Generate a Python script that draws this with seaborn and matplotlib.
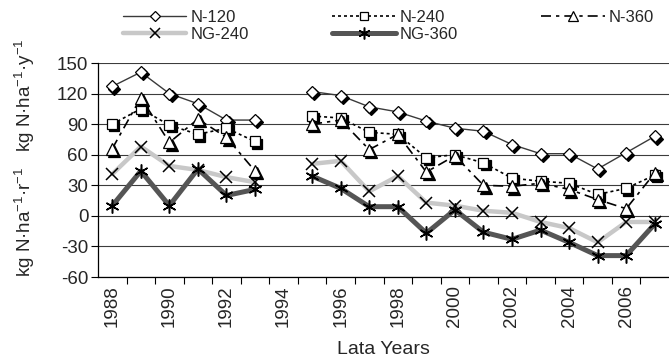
import numpy as np
import pandas as pd
import matplotlib
matplotlib.use("Agg")
import matplotlib.pyplot as plt
import matplotlib.transforms as mtransforms
from matplotlib.lines import Line2D
import seaborn as sns

years = list(range(1988, 2008))
n120 = [127, 141, 120, 110, 94, 94, np.nan, 122, 118, 107, 102, 93, 86, 83, 70, 61, 61, 46, 62, 78]
n240 = [90, 105, 89, 80, 86, 73, np.nan, 98, 96, 82, 80, 57, 60, 52, 37, 34, 32, 21, 27, 40]
n360 = [66, 116, 72, 95, 77, 44, np.nan, 90, 94, 65, 80, 43, 59, 30, 29, 32, 26, 16, 7, 42]
ng240 = [41, 68, 49, 45, 38, 33, np.nan, 51, 54, 24, 39, 13, 10, 5, 3, -6, -12, -26, -6, -6]
ng360 = [10, 44, 10, 46, 20, 26, np.nan, 39, 27, 9, 9, -17, 6, -16, -23, -14, -26, -39, -39, -8]
series_names = ["N-120", "N-240", "N-360", "NG-240", "NG-360"]
series_values = [n120, n240, n360, ng240, ng360]
yticks = [-60, -30, 0, 30, 60, 90, 120, 150]
xlabels = list(range(1988, 2007, 2))

sns.set_theme(style="white")
plt.rcParams["font.family"] = ["Liberation Sans", "DejaVu Sans"]
plt.rcParams["mathtext.fontset"] = "custom"
plt.rcParams["mathtext.rm"] = "Liberation Sans"
plt.rcParams["mathtext.it"] = "Liberation Sans"

rows = []
for name, vals in zip(series_names, series_values):
    for y, v in zip(years, vals):
        rows.append({"series": name, "year": y, "value": v,
                     "seg": 0 if y < 1994 else 1})
df = pd.DataFrame(rows).dropna()

styles = {
    "N-120": dict(line=dict(color="#3a3a3a", lw=1.0, ls="-"),
                  mk=dict(marker="D", ms=6.2, mfc="white", mec="black", mew=0.9), shadow=True),
    "N-240": dict(line=dict(color="black", lw=1.2, ls=(0, (1.8, 1.8))),
                  mk=dict(marker="s", ms=6.5, mfc="white", mec="black", mew=0.9), shadow=True),
    "N-360": dict(line=dict(color="black", lw=1.2, ls=(0, (6, 3, 2, 3))),
                  mk=dict(marker="^", ms=8, mfc="white", mec="black", mew=0.9), shadow=True),
    "NG-240": dict(line=dict(color="#c8c8c8", lw=3.2, ls="-"),
                   mk=dict(marker="x", ms=8, mfc="black", mec="black", mew=1.1), shadow=False),
    "NG-360": dict(line=dict(color="#555555", lw=3.6, ls="-"),
                   mk=dict(marker=(6, 2, 0), ms=10, mfc="black", mec="black", mew=1.1), shadow=False),
}

fig = plt.figure(figsize=(6.69, 3.6), dpi=100)
ax = fig.add_axes([98 / 669, 1 - 277 / 360, (669 - 98) / 669, (277 - 63) / 360])
shadow_tr = mtransforms.offset_copy(ax.transData, fig=fig, x=1.6, y=-1.6, units="points")

for y in yticks:
    ax.axhline(y, color="#3c3c3c", lw=0.8, zorder=0.5)

for i, name in enumerate(series_names):
    st = styles[name]
    sub = df[df["series"] == name]
    mk = st["mk"]
    for seg in (0, 1):
        d = sub[sub["seg"] == seg]
        sns.lineplot(data=d, x="year", y="value", ax=ax, estimator=None, sort=True,
                     color=st["line"]["color"], linewidth=st["line"]["lw"],
                     linestyle=st["line"]["ls"], zorder=2 + i, legend=False)
        if st["shadow"]:
            sns.lineplot(data=d, x="year", y="value", ax=ax, estimator=None, sort=True,
                         linestyle="", marker=mk["marker"], markersize=mk["ms"],
                         markerfacecolor="black", markeredgecolor="black",
                         markeredgewidth=mk["mew"], color="black", zorder=2.3 + i,
                         transform=shadow_tr, legend=False)
        sns.lineplot(data=d, x="year", y="value", ax=ax, estimator=None, sort=True,
                     linestyle="", marker=mk["marker"], markersize=mk["ms"],
                     markerfacecolor=mk["mfc"], markeredgecolor=mk["mec"],
                     markeredgewidth=mk["mew"], color="black", zorder=2.5 + i,
                     legend=False)

ax.set_xlim(1987.5, 2007.5)
ax.set_ylim(-60, 150)
ax.set_yticks(yticks)
ax.set_yticklabels([str(v) for v in yticks], fontsize=13.5)
ax.set_xticks(np.arange(1988.5, 2007.0, 1.0))
ax.set_xticklabels([])
ax.set_xticks(xlabels, minor=True)
ax.set_xticklabels([str(v) for v in xlabels], minor=True, rotation=90, fontsize=13.5)
ax.tick_params(axis="x", which="major", direction="out", length=5, width=0.8, color="black", bottom=True)
ax.tick_params(axis="x", which="minor", length=0, pad=6, bottom=True)
ax.tick_params(axis="y", direction="out", length=5, width=0.8, color="black", pad=2, left=True)
ax.set_xlabel("")
ax.set_ylabel("")
for s in ["top", "right"]:
    ax.spines[s].set_visible(False)
for s in ["left", "bottom"]:
    ax.spines[s].set_color("black")
    ax.spines[s].set_linewidth(0.9)
ax.set_facecolor("white")

fig.text((98 + 669) / 2 / 669, 1 - 350 / 360, "Lata Years", ha="center", va="center", fontsize=14)
fig.text(25 / 669, 1 - 95 / 360, r"kg N·ha$^{-1}$·y$^{-1}$", rotation=90, ha="center", va="center", fontsize=13.5)
fig.text(25 / 669, 1 - 222 / 360, r"kg N·ha$^{-1}$·r$^{-1}$", rotation=90, ha="center", va="center", fontsize=13.5)

handles = {}
for name in series_names:
    st = styles[name]
    mk = st["mk"]
    handles[name] = Line2D([], [], color=st["line"]["color"], lw=st["line"]["lw"], ls=st["line"]["ls"],
                           marker=mk["marker"], ms=mk["ms"] * 0.85, mfc=mk["mfc"], mec=mk["mec"],
                           mew=mk["mew"])
order = ["N-120", "NG-240", "N-240", "NG-360", "N-360"]
fig.legend([handles[n] for n in order], order, ncol=3, loc="upper left",
           bbox_to_anchor=(113 / 669, 1.0),
           frameon=False, fontsize=12, handlelength=3.8, handletextpad=0.25,
           columnspacing=5.0, labelspacing=0.1, borderpad=0.1)

fig.savefig("out.png", dpi=100, facecolor="white")
